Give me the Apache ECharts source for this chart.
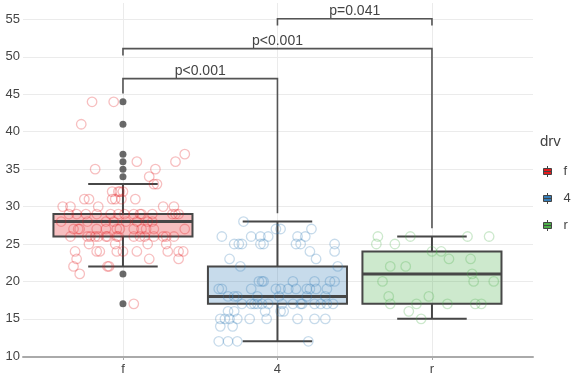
<!DOCTYPE html>
<html>
<head>
<meta charset="utf-8">
<script src="https://cdn.jsdelivr.net/npm/echarts@6/dist/echarts.min.js"></script>
<style>
  html, body { margin: 0; padding: 0; background: #fff; }
  #chart { width: 578px; height: 377px; }
</style>
</head>
<body>
<div id="chart"></div>
<script>
// categories and colours (Set1)
const drvLevels = ['f', '4', 'r'];
const drvColors = ['#E41A1C', '#377EB8', '#4DAF4A'];
const yTicks = [10, 15, 20, 25, 30, 35, 40, 45, 50, 55];

// box stats per drv: lower whisker, q1, median, q3, upper whisker
const boxLow = [22, 12, 15];
const boxQ1 = [26, 17, 17];
const boxMedian = [28, 18, 21];
const boxQ3 = [29, 22, 24];
const boxHigh = [33, 28, 26];
const fOutliers = [44, 41, 37, 36, 35, 34, 21, 17];

// jittered points: [hwy, horizontal jitter]
const fPoints = [
  [44, -0.20], [44, -0.06], [41, -0.27], [37, 0.40], [36, 0.09], [36, 0.34],
  [35, -0.18], [35, 0.21], [34, 0.17], [33, 0.20], [33, 0.22],
  [32, -0.07], [32, -0.03], [32, -0.02], [32, 0.00],
  [31, -0.25], [31, -0.22], [31, -0.07], [31, -0.05], [31, -0.01], [31, 0.08],
  [30, -0.39], [30, -0.34], [30, -0.16], [30, 0.26], [30, 0.33],
  [29, -0.35], [29, -0.30], [29, -0.24], [29, -0.17], [29, -0.08], [29, -0.03], [29, 0.01],
  [29, 0.07], [29, 0.11], [29, 0.12], [29, 0.19], [29, 0.32], [29, 0.34], [29, 0.36],
  [28, -0.40], [28, -0.23], [28, -0.11], [28, -0.06], [28, 0.02], [28, 0.09], [28, 0.16], [28, 0.19],
  [27, -0.32], [27, -0.29], [27, -0.28], [27, -0.17], [27, -0.11], [27, -0.04],
  [27, -0.02], [27, 0.07], [27, 0.12], [27, 0.15], [27, 0.20], [27, 0.40],
  [26, -0.34], [26, -0.23], [26, -0.21], [26, -0.18], [26, -0.16], [26, -0.11], [26, -0.10], [26, -0.04],
  [26, -0.03], [26, 0.07], [26, 0.11], [26, 0.14], [26, 0.20], [26, 0.26], [26, 0.28], [26, 0.33],
  [25, -0.22], [25, -0.05], [25, 0.16], [25, 0.28],
  [24, -0.31], [24, -0.17], [24, -0.15], [24, -0.04], [24, 0.00], [24, 0.09], [24, 0.29], [24, 0.36], [24, 0.39],
  [23, -0.30], [23, 0.17], [23, 0.36], [22, -0.32], [22, -0.10], [22, -0.09], [21, -0.28], [17, 0.07]
];
const fourPoints = [
  [28, -0.22], [27, -0.01], [27, 0.02], [27, 0.22],
  [26, -0.36], [26, -0.17], [26, -0.11], [26, -0.06], [26, 0.13], [26, 0.18],
  [25, -0.28], [25, -0.25], [25, -0.23], [25, -0.11], [25, -0.09], [25, 0.12], [25, 0.15], [25, 0.37],
  [24, 0.21], [24, 0.37], [23, -0.31], [23, 0.25], [22, -0.24], [22, 0.39],
  [20, -0.12], [20, -0.10], [20, -0.09], [20, 0.10], [20, 0.24], [20, 0.34], [20, 0.37],
  [19, -0.38], [19, -0.36], [19, -0.17], [19, -0.01], [19, 0.02], [19, 0.07],
  [19, 0.12], [19, 0.19], [19, 0.21], [19, 0.25], [19, 0.32],
  [18, -0.32], [18, -0.28], [18, -0.26], [18, -0.13], [18, 0.01], [18, 0.19], [18, 0.31],
  [17, -0.23], [17, -0.17], [17, -0.15], [17, -0.13], [17, -0.10], [17, -0.06], [17, 0.03],
  [17, 0.10], [17, 0.15], [17, 0.16], [17, 0.24], [17, 0.28], [17, 0.32], [17, 0.36],
  [16, -0.32], [16, -0.28], [16, -0.08], [16, 0.02], [16, 0.04],
  [15, -0.37], [15, -0.34], [15, -0.31], [15, -0.26], [15, -0.18], [15, -0.07], [15, 0.13], [15, 0.24], [15, 0.31],
  [14, -0.37], [14, -0.29], [12, -0.38], [12, -0.32], [12, -0.26], [12, 0.20]
];
const rPoints = [
  [26, -0.35], [25, -0.36], [25, -0.24], [26, -0.14], [26, 0.23], [26, 0.37],
  [24, 0.00], [24, 0.06], [23, 0.11], [23, 0.25], [22, -0.27], [22, -0.17],
  [21, 0.26], [20, -0.32], [20, 0.27], [20, 0.40], [18, -0.28], [18, -0.02],
  [17, -0.27], [17, -0.10], [17, 0.10], [17, 0.28], [17, 0.32], [16, -0.15], [15, -0.07]
];

// significance brackets
const bracketFrom = [0, 0, 1];
const bracketTo = [1, 2, 2];
const bracketY = [47.1, 51.1, 55.1];
const bracketTipFrom = [45.1, 50.2, 54.2];
const bracketTipTo = [29.1, 27.1, 54.2];
const bracketLabels = ['p<0.001', 'p<0.001', 'p=0.041'];

const FONT = 'Liberation Sans, Arial, sans-serif';
const boxWidth = 0.9;

function alpha(hex, a) {
  const n = parseInt(hex.slice(1), 16);
  return 'rgba(' + (n >> 16) + ',' + ((n >> 8) & 255) + ',' + (n & 255) + ',' + a + ')';
}

var myChart = echarts.init(document.getElementById('chart'));

function renderBox(params, api) {
  const i = api.value(0);
  const half = boxWidth / 2;
  const cap = boxWidth / 4;
  const tl = api.coord([i - half, api.value(4)]);
  const br = api.coord([i + half, api.value(2)]);
  const med = api.coord([i, api.value(3)]);
  const lo = api.coord([i, api.value(1)]);
  const hi = api.coord([i, api.value(5)]);
  const capL = api.coord([i - cap, 0])[0];
  const capR = api.coord([i + cap, 0])[0];
  const line = { stroke: '#474747', lineWidth: 2 };
  return {
    type: 'group',
    children: [
      { type: 'line', shape: { x1: med[0], y1: br[1], x2: med[0], y2: lo[1] }, style: line },
      { type: 'line', shape: { x1: med[0], y1: tl[1], x2: med[0], y2: hi[1] }, style: line },
      { type: 'line', shape: { x1: capL, y1: lo[1], x2: capR, y2: lo[1] }, style: line },
      { type: 'line', shape: { x1: capL, y1: hi[1], x2: capR, y2: hi[1] }, style: line },
      {
        type: 'rect',
        shape: { x: tl[0], y: tl[1], width: br[0] - tl[0], height: br[1] - tl[1] },
        style: { fill: alpha(drvColors[params.dataIndex], 0.28), stroke: '#474747', lineWidth: 2 }
      },
      { type: 'line', shape: { x1: tl[0], y1: med[1], x2: br[0], y2: med[1] }, style: { stroke: '#474747', lineWidth: 3 } }
    ]
  };
}

function renderBracket(params, api) {
  const a = api.coord([api.value(0), api.value(3)]);
  const b = api.coord([api.value(0), api.value(2)]);
  const c = api.coord([api.value(1), api.value(2)]);
  const d = api.coord([api.value(1), api.value(4)]);
  return {
    type: 'group',
    children: [
      {
        type: 'polyline',
        shape: { points: [a, b, c, d] },
        style: { stroke: '#555', lineWidth: 1.6, fill: null }
      },
      {
        type: 'text',
        x: (b[0] + c[0]) / 2,
        y: b[1] - 0.5,
        style: {
          text: bracketLabels[params.dataIndex],
          textAlign: 'center',
          textVerticalAlign: 'bottom',
          font: '14px ' + FONT,
          fill: '#444'
        }
      }
    ]
  };
}

const pointSets = [fPoints, fourPoints, rPoints];
const scatterSeries = drvLevels.map(function (name, i) {
  return {
    name: name,
    type: 'scatter',
    z: 3,
    symbol: 'circle',
    symbolSize: 9.5,
    itemStyle: { color: 'rgba(0,0,0,0)', borderColor: alpha(drvColors[i], 0.35), borderWidth: 1.3 },
    data: pointSets[i].map(function (p) { return [i + p[1], p[0]]; })
  };
});

const boxIcon = 'path://M4 0V2.5M0 2.5H8V8.5H0ZM0 5.5H8M4 8.5V11';

var option = {
  animation: false,
  grid: { left: 23, right: 45, top: 3, bottom: 20, outerBoundsMode: 'none', containLabel: false },
  xAxis: {
    type: 'value',
    min: -0.647,
    max: 2.654,
    axisLine: { show: true, onZero: false, lineStyle: { color: '#aaa', width: 2 } },
    axisTick: { show: true, customValues: [0, 1, 2], length: 3, lineStyle: { color: '#aaa' } },
    axisLabel: {
      customValues: [0, 1, 2],
      margin: 6,
      fontFamily: FONT,
      fontSize: 13,
      color: '#444',
      formatter: function (v) { return drvLevels[Math.round(v)]; }
    },
    splitLine: { show: true, lineStyle: { color: '#ebebeb', width: 1 } }
  },
  yAxis: {
    type: 'value',
    min: 9.9,
    max: 57.2,
    name: 'hwy',
    nameLocation: 'middle',
    nameGap: 24,
    nameTextStyle: { fontFamily: FONT, fontSize: 14, color: '#444' },
    axisLine: { show: false },
    axisTick: { show: false, customValues: yTicks },
    axisLabel: { customValues: yTicks, margin: 3, fontFamily: FONT, fontSize: 13, color: '#444' },
    splitLine: { show: true, lineStyle: { color: '#ebebeb', width: 1 } }
  },
  legend: {
    orient: 'vertical',
    left: 538,
    top: 160,
    itemWidth: 20,
    itemHeight: 11,
    itemGap: 14,
    icon: boxIcon,
    textStyle: { fontFamily: FONT, fontSize: 13, color: '#444', padding: [0, 0, 0, 1] },
    data: drvLevels.map(function (name, i) {
      return { name: name, itemStyle: { color: drvColors[i], borderColor: '#444', borderWidth: 1, opacity: 1 } };
    })
  },
  graphic: [
    { type: 'text', left: 540, top: 134, style: { text: 'drv', font: '15px ' + FONT, fill: '#444' } }
  ],
  series: [
    {
      type: 'custom',
      name: 'box',
      z: 2,
      silent: true,
      renderItem: renderBox,
      data: drvLevels.map(function (d, i) {
        return [i, boxLow[i], boxQ1[i], boxMedian[i], boxQ3[i], boxHigh[i]];
      })
    }
  ].concat(scatterSeries).concat([
    {
      type: 'scatter',
      name: 'outliers',
      z: 4,
      symbolSize: 7,
      itemStyle: { color: '#444' },
      data: fOutliers.map(function (v) { return [0, v]; })
    },
    {
      type: 'custom',
      name: 'brackets',
      z: 5,
      silent: true,
      renderItem: renderBracket,
      data: bracketFrom.map(function (f, i) {
        return [f, bracketTo[i], bracketY[i], bracketTipFrom[i], bracketTipTo[i]];
      })
    }
  ])
};

myChart.setOption(option);
</script>
</body>
</html>
